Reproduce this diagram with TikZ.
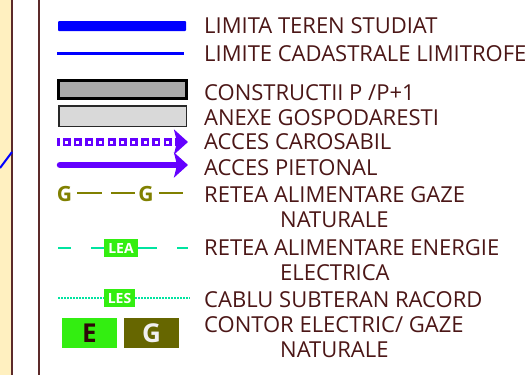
\documentclass[tikz,border=0pt]{standalone}
\usepackage{fontspec}
\setmainfont{Open Sans}
\usetikzlibrary{arrows.meta,positioning}

\definecolor{legtext}{RGB}{75,22,22}
\definecolor{strip}{RGB}{255,240,192}
\definecolor{frame}{RGB}{92,42,42}
\definecolor{purp}{RGB}{100,0,255}
\definecolor{olivg}{RGB}{128,128,0}
\definecolor{olivbox}{RGB}{102,102,0}
\definecolor{brgreen}{RGB}{51,238,17}
\definecolor{teal2}{RGB}{0,228,160}

\begin{document}
\begin{tikzpicture}[x=1pt,y=-1pt,
    legtxt/.style={anchor=base west,inner sep=0pt,text=legtext,align=left,
                   font=\fontsize{22}{25.5}\selectfont},
    tag/.style={fill=brgreen,text=white,inner sep=0pt,font=\bfseries\fontsize{14}{14}\selectfont},
    contor/.style={minimum width=55pt,minimum height=30pt,inner sep=0pt,
                   font=\bfseries\fontsize{26}{26}\selectfont},
    gazline/.style={draw=olivg,line width=2.5pt},
    lealine/.style={draw=teal2,line width=2.5pt},
    arrowhd/.style={-{Stealth[length=14pt,width=25pt,inset=3pt]}},
    ]

  \useasboundingbox (0,0) rectangle (527,375);
  \fill[strip] (0,0) rectangle (11,375);
  \draw[frame,line width=2pt] (12,0) -- (12,375);
  \draw[frame,line width=2pt] (38.5,0) -- (38.5,375);
  \draw[blue,line width=2pt] (0,168) -- (12,152);

  \fill[blue,rounded corners=1pt] (58,21) rectangle (186,31);
  \draw[blue,line width=3pt] (57,53.5) -- (184,53.5);
  \draw[line width=3pt,fill={rgb,255:red,170;green,170;blue,170}] (58.5,80.5) rectangle (186.5,98.5);
  \draw[line width=1.5pt,draw={rgb,255:red,40;green,40;blue,40},fill={rgb,255:red,217;green,217;blue,217}]
       (58.75,105.75) rectangle (186.25,126.25);

  \begin{scope}
    \clip (57,130) rectangle (178,155);
    \foreach \i in {0,...,11}
      \draw[purp,line width=2.5pt] (52.75+11.2*\i,139.25) rectangle ++(5.5,5.5);
  \end{scope}
  \coordinate (cs) at (176,142);
  \coordinate (ce) at (188,142);
  \draw[purp,line width=2pt,arrowhd] (cs) -- (ce);

  \coordinate (ps) at (60,165);
  \coordinate (pe) at (188,165);
  \draw[purp,line width=6.5pt,line cap=round,arrowhd] (ps) -- (pe);

  \node[text=olivg,inner sep=0pt,font=\bfseries\fontsize{21}{21}\selectfont] (G1) at (64.5,194) {G};
  \node[text=olivg,inner sep=0pt,font=\bfseries\fontsize{21}{21}\selectfont] (G2) at (146,194) {G};
  \coordinate (gend) at (183,193);
  \draw[gazline,shorten <=5pt,shorten >=3pt,dash pattern=on 25pt off 9pt on 40pt] (G1.east |- gend) -- (G2.west |- gend);
  \draw[gazline,shorten <=5pt] (G2.east |- gend) -- (gend);

  \node[tag,minimum width=34pt,minimum height=18pt] (LEA) at (121,248) {LEA};
  \coordinate (leas) at (58,248);
  \coordinate (leae) at (188,248);
  \draw[lealine,dash pattern=on 13pt off 20pt on 20pt] (leas) -- (LEA.west);
  \draw[lealine,dash pattern=on 19pt off 20pt on 20pt] (LEA.east) -- (leae);

  \node[tag,minimum width=31pt,minimum height=18pt] (LES) at (119.5,298) {LES};
  \coordinate (less) at (58,298);
  \coordinate (lese) at (190,298);
  \draw[teal2,line width=1.6pt,dash pattern=on 1.6pt off 1.4pt] (less) -- (LES.west);
  \draw[teal2,line width=1.6pt,dash pattern=on 1.6pt off 1.4pt] (LES.east) -- (lese);

  \node[contor,fill=brgreen,text={rgb,255:red,45;green,8;blue,8}] (E) at (89.5,333) {E};
  \node[contor,fill=olivbox,text={rgb,255:red,240;green,240;blue,240}] (G) at (151.5,333) {G};

  \node[legtxt] (t1) at (204,33) {LIMITA TEREN STUDIAT};
  \node[legtxt] (t2) at (204,61) {LIMITE CADASTRALE LIMITROFE};
  \node[legtxt] (t3) at (204,100) {CONSTRUCTII P /P+1};
  \node[legtxt] (t4) at (204,125) {ANEXE GOSPODARESTI};
  \node[legtxt] (t5) at (204,149) {ACCES CAROSABIL};
  \node[legtxt] (t6) at (204,175) {ACCES PIETONAL};
  \node[legtxt] (t7) at (204,227.5) {RETEA ALIMENTARE GAZE\\\hspace*{76pt}NATURALE};
  \node[legtxt] (t8) at (204,280.5) {RETEA ALIMENTARE ENERGIE\\\hspace*{76pt}ELECTRICA};
  \node[legtxt] (t9) at (204,307) {CABLU SUBTERAN RACORD};
  \node[legtxt] (t10) at (204,357.5) {CONTOR ELECTRIC/ GAZE\\\hspace*{76pt}NATURALE};
\end{tikzpicture}
\end{document}
